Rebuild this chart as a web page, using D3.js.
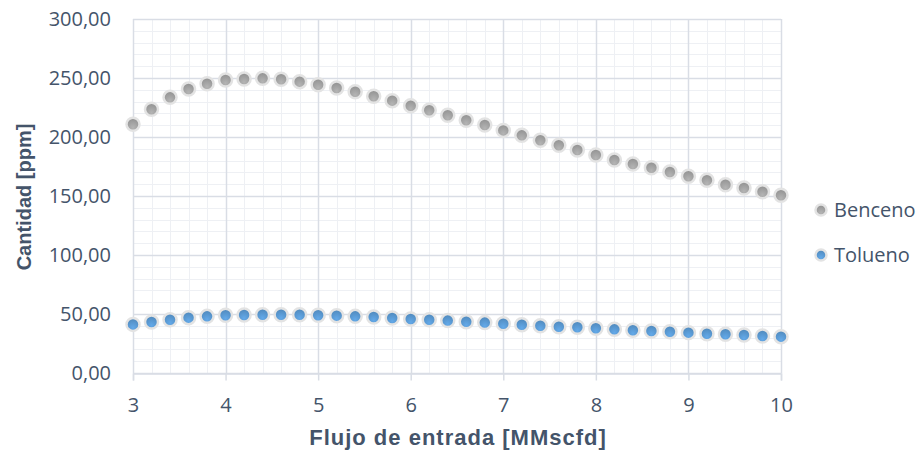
<!DOCTYPE html>
<html>
<head>
<meta charset="utf-8">
<script src="https://cdn.jsdelivr.net/npm/d3@7"></script>
<style>
  body { margin: 0; background: #fff; }
  svg { display: block; }
</style>
</head>
<body>
<div id="chart"></div>
<script>
// flujo de entrada, MMscfd
var flujo = [3.0, 3.2, 3.4, 3.6, 3.8, 4.0, 4.2, 4.4, 4.6, 4.8, 5.0, 5.2, 5.4, 5.6, 5.8, 6.0,
             6.2, 6.4, 6.6, 6.8, 7.0, 7.2, 7.4, 7.6, 7.8, 8.0, 8.2, 8.4, 8.6, 8.8, 9.0,
             9.2, 9.4, 9.6, 9.8, 10.0];
var benceno = [210.8, 223.5, 233.6, 240.7, 245.2, 248.3, 249.2, 249.7, 248.9, 246.9, 244.3,
               241.5, 238.4, 234.5, 230.8, 226.5, 222.6, 218.4, 214.2, 210.2, 205.6, 201.4,
               197.2, 193.0, 189.0, 184.7, 180.5, 177.1, 174.0, 170.3, 166.7, 163.3, 159.6,
               156.8, 153.6, 150.6];
var tolueno = [41.2, 43.2, 45.2, 46.9, 48.0, 48.9, 49.2, 49.4, 49.4, 49.4, 48.9, 48.6, 48.0,
               47.5, 46.6, 45.8, 45.2, 44.4, 43.5, 42.7, 41.8, 40.9, 40.1, 39.2, 38.7, 37.9,
               37.0, 36.2, 35.6, 35.0, 34.2, 33.3, 32.8, 32.2, 31.4, 30.8];
var seriesNames = ["Benceno", "Tolueno"];
var seriesColors = ["#a5a5a5", "#5b9bd5"];
var xTicks = [3, 4, 5, 6, 7, 8, 9, 10];
var yTicks = [0, 50, 100, 150, 200, 250, 300];

var width = 921, height = 455;
var plotL = 133, plotR = 781, plotT = 19, plotB = 373;
var textColor = "#44546a";

var svg = d3.select("#chart").append("svg")
    .attr("width", width)
    .attr("height", height);

var x = d3.scaleLinear().domain([3, 10]).range([plotL, plotR]);
var y = d3.scaleLinear().domain([0, 300]).range([plotB, plotT]);

var defs = svg.append("defs");
seriesColors.forEach(function(c, i) {
  var g = defs.append("radialGradient")
      .attr("id", "grad" + i)
      .attr("cx", "50%").attr("cy", "75%").attr("r", "70%");
  g.append("stop").attr("offset", "0%").attr("stop-color", d3.color(c).brighter(0.25));
  g.append("stop").attr("offset", "100%").attr("stop-color", d3.color(c).darker(0.35));
});

// minor grid
var minorX = d3.range(3, 10.001, 0.2);
var minorY = d3.range(0, 300.001, 10);
svg.append("g").selectAll("line").data(minorX).enter().append("line")
    .attr("x1", function(d) { return Math.round(x(d)) + 0.5; })
    .attr("x2", function(d) { return Math.round(x(d)) + 0.5; })
    .attr("y1", plotT).attr("y2", plotB)
    .attr("stroke", "#eef0f4").attr("stroke-width", 1);
svg.append("g").selectAll("line").data(minorY).enter().append("line")
    .attr("y1", function(d) { return Math.round(y(d)) + 0.5; })
    .attr("y2", function(d) { return Math.round(y(d)) + 0.5; })
    .attr("x1", plotL).attr("x2", plotR)
    .attr("stroke", "#eef0f4").attr("stroke-width", 1);

// major grid
svg.append("g").selectAll("line").data(xTicks).enter().append("line")
    .attr("x1", function(d) { return Math.round(x(d)) + 0.5; })
    .attr("x2", function(d) { return Math.round(x(d)) + 0.5; })
    .attr("y1", plotT).attr("y2", plotB)
    .attr("stroke", "#d9dde5").attr("stroke-width", 1.5);
svg.append("g").selectAll("line").data(yTicks).enter().append("line")
    .attr("y1", function(d) { return Math.round(y(d)) + 0.5; })
    .attr("y2", function(d) { return Math.round(y(d)) + 0.5; })
    .attr("x1", plotL).attr("x2", plotR)
    .attr("stroke", "#d9dde5").attr("stroke-width", 1.5);

// x axis
var xAxis = svg.append("g")
    .attr("transform", "translate(0," + (Math.round(y(0)) + 0.5) + ")")
    .call(d3.axisBottom(x).tickValues(xTicks).tickSize(7).tickPadding(17)
          .tickFormat(d3.format("d")));
xAxis.select(".domain").attr("stroke", "#d9dde5").attr("stroke-width", 1.5);
xAxis.selectAll(".tick line").attr("stroke", "#d9dde5").attr("stroke-width", 1.5);
xAxis.selectAll(".tick text")
    .attr("fill", textColor)
    .attr("font-family", "'Open Sans', sans-serif")
    .attr("font-size", 20);

// y axis
var fmt = function(d) { return d3.format(".2f")(d).replace(".", ","); };
var yAxis = svg.append("g")
    .attr("transform", "translate(" + plotL + ",0)")
    .call(d3.axisLeft(y).tickValues(yTicks).tickSize(0).tickPadding(22).tickFormat(fmt));
yAxis.select(".domain").remove();
yAxis.selectAll(".tick text")
    .attr("fill", textColor)
    .attr("font-family", "'Open Sans', sans-serif")
    .attr("font-size", 20);

// axis titles
svg.append("text")
    .text("Flujo de entrada [MMscfd]")
    .attr("x", 458)
    .attr("y", 445)
    .attr("fill", textColor)
    .attr("font-family", "'Liberation Sans', Arial, sans-serif")
    .attr("font-weight", "bold")
    .attr("font-size", 22)
    .attr("letter-spacing", 1)
    .style("text-anchor", "middle");
svg.append("text")
    .text("Cantidad [ppm]")
    .attr("transform", "translate(31,197) rotate(-90)")
    .attr("fill", textColor)
    .attr("font-family", "'Liberation Sans', Arial, sans-serif")
    .attr("font-weight", "bold")
    .attr("font-size", 20)
    .style("text-anchor", "middle");

// series
var allSeries = [benceno, tolueno];
allSeries.forEach(function(vals, i) {
  svg.append("g").selectAll("circle").data(vals).enter().append("circle")
      .attr("cx", function(d, j) { return x(flujo[j]); })
      .attr("cy", function(d) { return y(d); })
      .attr("r", 6.5)
      .attr("fill", "url(#grad" + i + ")")
      .attr("stroke", "#e3e3e3")
      .attr("stroke-width", 2.5);
});

// legend
var legend = svg.append("g");
seriesNames.forEach(function(name, i) {
  var ly = 210 + i * 45;
  legend.append("circle")
      .attr("cx", 821).attr("cy", ly).attr("r", 5.5)
      .attr("fill", "url(#grad" + i + ")")
      .attr("stroke", "#e3e3e3")
      .attr("stroke-width", 2.5);
  legend.append("text")
      .text(name)
      .attr("x", 834).attr("y", ly)
      .attr("dy", ".35em")
      .attr("fill", textColor)
      .attr("font-family", "'Open Sans', sans-serif")
      .attr("font-size", 20);
});
</script>
</body>
</html>
